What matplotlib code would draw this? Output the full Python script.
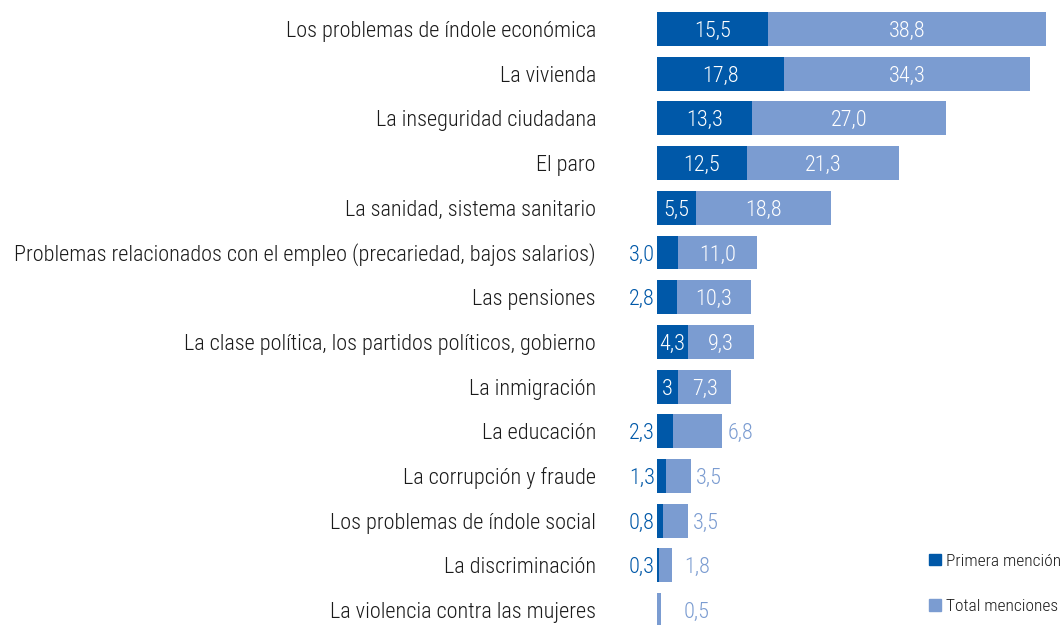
import matplotlib
matplotlib.use("Agg")
import matplotlib.pyplot as plt
from matplotlib.patches import Patch

plt.rcParams["font.family"] = ["Roboto Condensed", "DejaVu Sans"]
plt.rcParams["font.weight"] = 300

categories = [
    "Los problemas de índole económica",
    "La vivienda",
    "La inseguridad ciudadana",
    "El paro",
    "La sanidad, sistema sanitario",
    "Problemas relacionados con el empleo (precariedad, bajos salarios)",
    "Las pensiones",
    "La clase política, los partidos políticos, gobierno",
    "La inmigración",
    "La educación",
    "La corrupción y fraude",
    "Los problemas de índole social",
    "La discriminación",
    "La violencia contra las mujeres",
]
primera = [15.5, 17.8, 13.3, 12.5, 5.5, 3.0, 2.8, 4.3, 3.0, 2.3, 1.3, 0.8, 0.3, 0.0]
total = [38.8, 34.3, 27.0, 21.3, 18.8, 11.0, 10.3, 9.3, 7.3, 6.8, 3.5, 3.5, 1.8, 0.5]
primera_txt = ["15,5", "17,8", "13,3", "12,5", "5,5", "3,0", "2,8", "4,3", "3",
               "2,3", "1,3", "0,8", "0,3", ""]
total_txt = ["38,8", "34,3", "27,0", "21,3", "18,8", "11,0", "10,3", "9,3", "7,3",
             "6,8", "3,5", "3,5", "1,8", "0,5"]
# which first-mention labels sit inside the dark segment (as in the source)
primera_inside = [True, True, True, True, True, False, False, True, True,
                  False, False, False, False, False]

DARK = "#0058A8"
LIGHT = "#7B9CD1"
TEXT = "#1a1a1a"
FS = 16

W, H = 1061, 625
fig = plt.figure(figsize=(W / 100, H / 100), dpi=100)
# zero of the value axis sits at x=657px; rows are ~44.7px apart
row_px = 44.7
top_px = 29 - row_px / 2
ax_h = 14 * row_px
ax = fig.add_axes([657 / W, (H - top_px - ax_h) / H, (W - 657) / W, ax_h / H])
px_per_unit = 7.16
ax.set_xlim(0, (W - 657) / px_per_unit)
ax.set_ylim(13.5, -0.5)
ax.axis("off")

y = list(range(len(categories)))
ax.barh(y, primera, height=0.76, color=DARK, linewidth=0)
ax.barh(y, total, left=primera, height=0.76, color=LIGHT, linewidth=0)

u = 1 / px_per_unit  # one pixel in data units
for i in y:
    ax.text(-61 * u, i, categories[i], ha="right", va="center_baseline",
            fontsize=FS, color=TEXT, clip_on=False)
    if primera_txt[i]:
        if primera_inside[i]:
            ax.text(primera[i] / 2, i, primera_txt[i], ha="center",
                    va="center_baseline", fontsize=FS, color="white")
        else:
            ax.text(-2 * u, i, primera_txt[i], ha="right", va="center_baseline",
                    fontsize=FS, color=DARK, clip_on=False)
    end = primera[i] + total[i]
    if total[i] >= 7.0:
        ax.text(primera[i] + total[i] / 2, i, total_txt[i], ha="center",
                va="center_baseline", fontsize=FS, color="white")
    else:
        x = max(end + 5 * u, 27 * u)
        ax.text(x, i, total_txt[i], ha="left", va="center_baseline",
                fontsize=FS, color=LIGHT)

handles = [Patch(color=DARK, label="Primera mención"),
           Patch(color=LIGHT, label="Total menciones")]
fig.legend(handles=handles, loc="lower right",
           bbox_to_anchor=(1.0 + 7 / W, 4 / H),
           frameon=False, fontsize=12.5, handlelength=0.65, handleheight=0.65,
           handletextpad=0.3, labelspacing=1.75, borderaxespad=0.0,
           labelcolor=TEXT)

fig.savefig("out.png", dpi=100)
